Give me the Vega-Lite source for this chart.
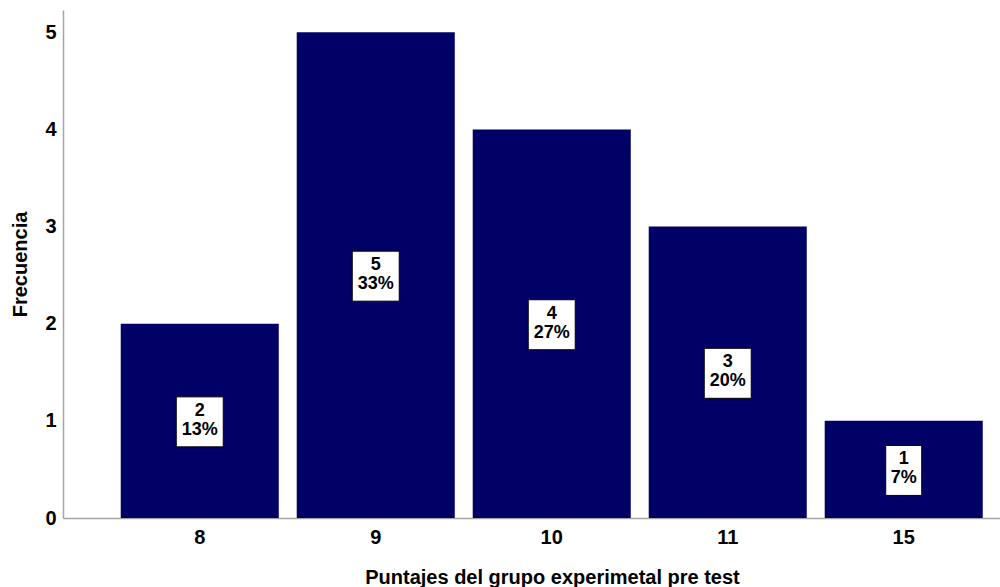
{
  "$schema": "https://vega.github.io/schema/vega-lite/v6.json",
  "width": 937,
  "height": 508,
  "autosize": {"type": "none"},
  "padding": {"left": 63, "top": 10, "right": 0, "bottom": 69},
  "background": "white",
  "config": {
    "view": {"stroke": null},
    "font": "Liberation Sans",
    "axis": {"labelFont": "Liberation Sans", "titleFont": "Liberation Sans", "labelColor": "#000000", "titleColor": "#000000", "labelFontSize": 20, "titleFontSize": 20, "labelFontWeight": "bold", "titleFontWeight": "bold", "domainColor": "#a6a6a6", "domainWidth": 1.5, "ticks": false, "grid": false}
  },
  "data": {
    "values": [
      {"puntaje": "8", "count": 2, "pct": 0.1333},
      {"puntaje": "9", "count": 5, "pct": 0.3333},
      {"puntaje": "10", "count": 4, "pct": 0.2667},
      {"puntaje": "11", "count": 3, "pct": 0.2},
      {"puntaje": "15", "count": 1, "pct": 0.0667}
    ]
  },
  "encoding": {
    "x": {
      "field": "puntaje",
      "type": "ordinal",
      "sort": null,
      "scale": {"paddingInner": 0.102, "paddingOuter": 0.213, "align": 0.77},
      "axis": {"title": "Puntajes del grupo experimetal pre test", "labelAngle": 0, "labelPadding": 9, "titlePadding": 20, "titleX": 489, "titleAlign": "center"}
    }
  },
  "layer": [
    {
      "mark": {"type": "bar", "color": "#000066"},
      "encoding": {
        "y": {
          "field": "count",
          "type": "quantitative",
          "scale": {"domain": [0, 5.23], "nice": false},
          "axis": {"title": "Frecuencia", "values": [0, 1, 2, 3, 4, 5], "labelPadding": 7, "titlePadding": 14}
        }
      }
    },
    {
      "encoding": {
        "y": {"field": "count", "type": "quantitative", "scale": {"domain": [0, 10.46], "nice": false}, "axis": null}
      },
      "layer": [
        {
          "mark": {"type": "bar", "fill": "white", "stroke": "#000000", "strokeWidth": 1, "yOffset": -24, "y2Offset": 26},
          "encoding": {
            "y2": {"field": "count"},
            "size": {"condition": {"test": "datum.pct < 0.1", "value": 36}, "value": 47}
          }
        },
        {
          "mark": {"type": "text", "fontSize": 18, "fontWeight": "bold", "baseline": "middle", "dy": -10, "color": "#000000"},
          "encoding": {"text": {"field": "count", "type": "quantitative"}}
        },
        {
          "mark": {"type": "text", "fontSize": 18, "fontWeight": "bold", "baseline": "middle", "dy": 9, "color": "#000000"},
          "encoding": {"text": {"field": "pct", "type": "quantitative", "format": ".0%"}}
        }
      ]
    }
  ],
  "resolve": {"scale": {"y": "independent"}}
}
